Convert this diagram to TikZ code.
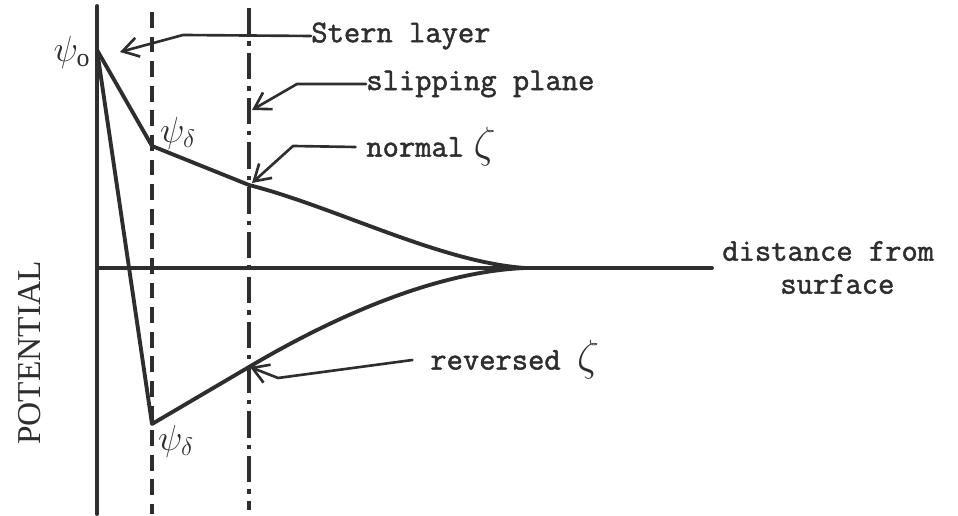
\documentclass[tikz,border=0pt]{standalone}
\usepackage{fontspec}
\setmainfont{Liberation Serif}
\newfontfamily\tw{Latin Modern Mono}[FakeBold=1.6]
\usetikzlibrary{arrows.meta}
\definecolor{ink}{HTML}{2E2E2E}
\begin{document}
\begin{tikzpicture}[x=0.02cm,y=-0.02cm,
  ink/.style={draw=ink,line cap=round,line join=round},
  heavy/.style={ink,line width=2.2pt},
  leader/.style={ink,line width=1.5pt,-{Straight Barb[length=9pt,width=11pt,line width=1.5pt]}},
  lbl/.style={text=ink,font=\fontsize{18}{21}\selectfont\tw,inner sep=0pt},
  greek/.style={text=ink,font=\fontsize{21}{25}\selectfont,inner sep=0pt},
  zeta/.style={text=ink,font=\fontsize{30}{34}\selectfont,inner sep=0pt}]
\useasboundingbox (0,0) rectangle (958,516);
% key points
\coordinate (O) at (97,268);
\coordinate (P0) at (97,50);
\coordinate (A) at (152,146);
\coordinate (B) at (249,185);
\coordinate (C) at (152,424);
\coordinate (D) at (249,367);
\coordinate (E) at (525,268);
\coordinate (axT) at (97,6);
\coordinate (axB) at (97,514);
\coordinate (axR) at (712,268);
\coordinate (s1T) at (152,12);
\coordinate (s1B) at (152,514);
\coordinate (s2T) at (249,8);
\coordinate (s2B) at (249,510);
% axes
\draw[heavy] (axT) -- (axB);
\draw[heavy] (O) -- (axR);
\draw[heavy,line width=2pt,line cap=butt,dash pattern=on 9pt off 5pt] (s1T) -- (s1B);
\draw[heavy,line width=2pt,line cap=butt,dash pattern=on 15pt off 4pt on 2.5pt off 4pt] (s2T) -- (s2B);
% curves
\draw[heavy] (P0) -- (A) -- (B) .. controls (335,207) and (440,262) .. (E);
\draw[heavy] (P0) -- (C) -- (D) .. controls (325,322) and (430,272) .. (E);
% greek labels
\node[greek] (psi0) at (72,52) {$\psi_{\mathrm o}$};
\node[greek] (psid1) at (178,133) {$\psi_\delta$};
\node[greek] (psid2) at (176,441) {$\psi_\delta$};
% text labels
\node[lbl,anchor=west] (stern) at (311,36) {Stern layer};
\node[lbl,anchor=west] (slip) at (366,84) {slipping plane};
\node[lbl,anchor=west] (normal) at (366,147) {normal};
\node[zeta,anchor=west] (z1) at ([xshift=5pt]normal.east) {$\zeta$};
\node[lbl,anchor=west] (rev) at (430,360) {reversed};
\node[zeta,anchor=west] (z2) at ([xshift=9pt]rev.east) {$\zeta$};
\node[lbl,anchor=west] (dist) at (722,251) {distance from};
\node[lbl,anchor=west] (surf) at (780,284) {surface};
\node[text=ink,font=\fontsize{19}{22}\selectfont,rotate=90,inner sep=0pt] (pot) at (30,353) {POTENTIAL};
% leaders
\coordinate (k1) at (183,35);
\coordinate (t1) at (120,52);
\draw[leader] (stern.west) -- (k1) -- (t1);
\coordinate (k2) at (297,84);
\coordinate (t2) at (252,110);
\draw[leader] (slip.west) -- (k2) -- (t2);
\coordinate (k3) at (293,146);
\coordinate (t3) at (252,183);
\draw[leader] ([xshift=-6pt]normal.west) -- (k3) -- (t3);
\coordinate (k4) at (278,378);
\coordinate (t4) at (250,367);
\draw[leader] ([xshift=-10pt]rev.west) -- (k4) -- (t4);
\end{tikzpicture}
\end{document}
